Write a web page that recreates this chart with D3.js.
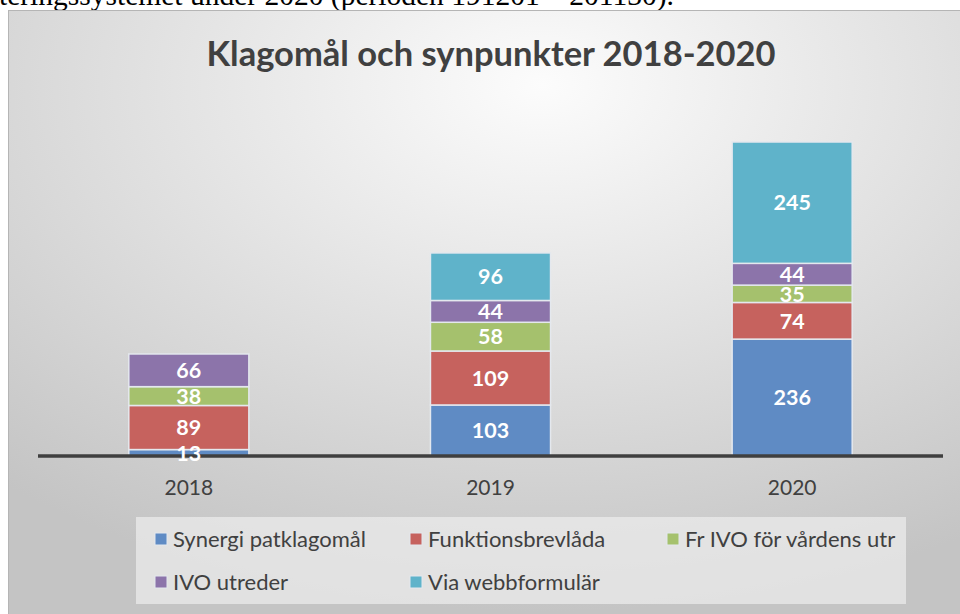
<!DOCTYPE html>
<html>
<head>
  <meta charset="utf8" />
  <style>
    body { margin: 0; background: #fff; }
    svg { display: block; }
    text { font-family: Lato, "Open Sans", sans-serif; }
    .intro { font-family: "Liberation Serif", "DejaVu Serif", serif; font-size: 29.5px; fill: #000; }
    .title { font-size: 34.5px; font-weight: bold; fill: #404040; text-anchor: middle; }
    .tick { font-size: 21px; fill: #404040; text-anchor: middle; }
    .lbl { font-size: 21.5px; font-weight: bold; fill: #fff; text-anchor: middle; }
    .leg { font-size: 22px; fill: #404040; }
  </style>
</head>
<body>
  <script src="https://d3js.org/d3.v7.min.js"></script>
  <script>
    var years = ["2018", "2019", "2020"];
    var seriesNames = ["Synergi patklagomål", "Funktionsbrevlåda", "Fr IVO för vårdens utr", "IVO utreder", "Via webbformulär"];
    var synergi = [13, 103, 236];
    var funktion = [89, 109, 74];
    var frIvo = [38, 58, 35];
    var ivoUtreder = [66, 44, 44];
    var webb = [0, 96, 245];
    var colors = ["#5f8bc4", "#c6625e", "#a5c16d", "#8c74aa", "#5fb3ca"];

    var width = 960, height = 614;

    var rows = years.map(function(y, i) {
      return { year: y, s0: synergi[i], s1: funktion[i], s2: frIvo[i], s3: ivoUtreder[i], s4: webb[i] };
    });
    var keys = ["s0", "s1", "s2", "s3", "s4"];
    var stacked = d3.stack().keys(keys)(rows);

    var svg = d3.select("body").append("svg").attr("width", width).attr("height", height);

    var defs = svg.append("defs");
    var grad = defs.append("radialGradient").attr("id", "bg")
        .attr("cx", "55%").attr("cy", "12%").attr("r", "85%");
    grad.append("stop").attr("offset", "0%").attr("stop-color", "#fcfcfc");
    grad.append("stop").attr("offset", "100%").attr("stop-color", "#c4c4c4");

    // text above the chart, cut off at the top
    svg.append("text").attr("class", "intro")
        .attr("x", -1).attr("y", 5)
        .text("teringssystemet under 2020 (perioden 191201 – 201130).");

    svg.append("rect")
        .attr("x", 8.5).attr("y", 10.5)
        .attr("width", 970).attr("height", 620)
        .attr("fill", "url(#bg)")
        .attr("stroke", "#b5b5b5");

    svg.append("text").attr("class", "title")
        .attr("x", 491).attr("y", 66)
        .text("Klagomål och synpunkter 2018-2020");

    var x = d3.scaleBand().domain(years).range([38, 943]).paddingInner(0.602).paddingOuter(0.301);
    var y = d3.scaleLinear().domain([0, 634]).range([456, 142]);

    var groups = svg.selectAll("g.series")
        .data(stacked)
      .enter().append("g")
        .attr("class", "series")
        .attr("fill", function(d, i) { return colors[i]; });

    groups.selectAll("rect")
        .data(function(d) { return d.filter(function(p) { return p[1] - p[0] > 0; }); })
      .enter().append("rect")
        .attr("x", function(d) { return x(d.data.year); })
        .attr("width", x.bandwidth())
        .attr("y", function(d) { return y(d[1]); })
        .attr("height", function(d) { return y(d[0]) - y(d[1]); })
        .attr("stroke", "#e4e8ee")
        .attr("stroke-width", 1.5);

    // axis line
    svg.append("line")
        .attr("x1", 38).attr("x2", 943)
        .attr("y1", 456).attr("y2", 456)
        .attr("stroke", "#3f3f3f").attr("stroke-width", 3.5);

    svg.selectAll("text.tick")
        .data(years)
      .enter().append("text")
        .attr("class", "tick")
        .attr("x", function(d) { return x(d) + x.bandwidth() / 2; })
        .attr("y", 495)
        .text(function(d) { return d; });

    // value labels
    stacked.forEach(function(s) {
      svg.selectAll(null)
          .data(s.filter(function(p) { return p[1] - p[0] > 0; }))
        .enter().append("text")
          .attr("class", "lbl")
          .attr("x", function(d) { return x(d.data.year) + x.bandwidth() / 2; })
          .attr("y", function(d) { return (y(d[0]) + y(d[1])) / 2; })
          .attr("dy", "0.36em")
          .text(function(d) { return d[1] - d[0]; });
    });

    // legend
    svg.append("rect")
        .attr("x", 136).attr("y", 517)
        .attr("width", 770).attr("height", 87)
        .attr("fill", "#ebebeb").attr("fill-opacity", 0.75);

    var legPos = [[155, 539], [410, 539], [667, 539], [155, 582], [410, 582]];
    var leg = svg.selectAll("g.leg")
        .data(seriesNames)
      .enter().append("g")
        .attr("transform", function(d, i) { return "translate(" + legPos[i] + ")"; });
    leg.append("rect")
        .attr("x", 0).attr("y", -6)
        .attr("width", 12).attr("height", 12)
        .attr("fill", function(d, i) { return colors[i]; })
        .attr("stroke", "#e4e8ee");
    leg.append("text")
        .attr("class", "leg")
        .attr("x", 18).attr("dy", "0.35em")
        .text(function(d) { return d; });
  </script>
</body>
</html>
